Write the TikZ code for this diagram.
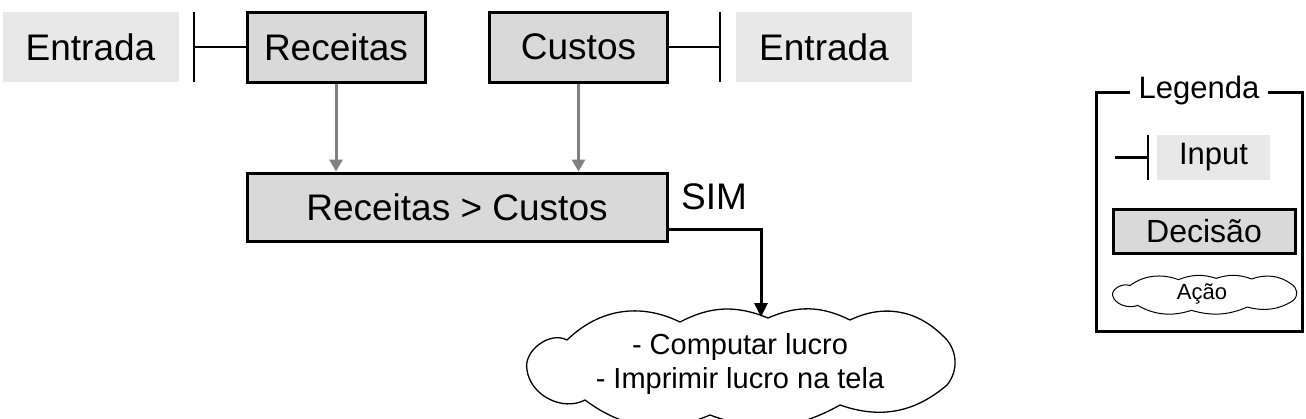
\documentclass[tikz,border=0pt]{standalone}
\usepackage{fontspec}
\setmainfont{Liberation Sans}
\usetikzlibrary{arrows.meta,positioning,calc}
\definecolor{inputgray}{RGB}{232,232,232}
\definecolor{decgray}{RGB}{217,217,217}
\definecolor{arrowgray}{RGB}{128,128,128}

% cloud outline round the current origin
\newcommand{\cloudoutline}[1]{%
  \draw[#1] (-210,3) to[bend left=65] (-170,-27) to[bend left=35] (-57,-45)
    to[bend left=25] (31,-49) to[bend left=25] (113,-47) to[bend left=35] (205,-32)
    to[bend left=45] (210,18) to[bend left=30] (103,38) to[bend left=25] (-27,48)
    to[bend left=30] (-152,33) to[bend left=55] cycle;}

\begin{document}
\begin{tikzpicture}[x=1pt,y=-1pt]
    % Define node styles
    \tikzstyle{inputbox} = [rectangle, fill=inputgray, inner sep=0pt, minimum width=176pt, minimum height=70pt, font=\fontsize{37}{40}\selectfont]
    \tikzstyle{decbox} = [rectangle, draw, line width=3pt, fill=decgray, inner sep=0pt, minimum width=178pt, minimum height=70pt, font=\fontsize{37}{40}\selectfont]
    \tikzstyle{cloudline} = [line width=1.3pt, fill=white, line join=round]
    \tikzstyle{bar} = [line width=2.5pt]
    \tikzstyle{grayarrow} = [arrowgray, line width=3pt, -{Triangle[length=12pt,width=13pt]}]
    \tikzstyle{simarrow} = [line width=3pt, -{Triangle[length=14pt,width=13pt]}]

    \useasboundingbox (0,0) rectangle (1306,418);

    % Inputs and sources
    \node[inputbox] (ent1) at (90.5,47) {Entrada};
    \node[decbox] (rec) at (336,47) {Receitas};
    \node[decbox] (cus) at (578.5,47) {Custos};
    \node[inputbox] (ent2) at (824,47) {Entrada};

    % Input bars
    \coordinate (barL) at (194,47);
    \coordinate (barR) at (720,47);
    \draw[bar] (rec.west) -- (barL);
    \draw[bar] (barL |- ent1.north) -- (barL |- ent1.south);
    \draw[bar] (cus.east) -- (barR);
    \draw[bar] (barR |- ent2.north) -- (barR |- ent2.south);

    % Decision
    \node[decbox, minimum width=420pt, minimum height=68pt] (dec) at (457,207) {Receitas > Custos};
    \draw[grayarrow] (rec.south) -- (rec.south |- dec.north);
    \draw[grayarrow] (cus.south) -- (cus.south |- dec.north);

    % Action
    \coordinate (actc) at (737,367);
    \begin{scope}[shift={(actc)}]
        \cloudoutline{cloudline}
    \end{scope}
    \node[align=center, inner sep=0pt, font=\fontsize{29}{34}\selectfont] (act) at (740,364) {- Computar lucro\\- Imprimir lucro na tela};
    \coordinate (simB) at (761,317);
    \draw[simarrow] ([yshift=13pt]dec.south east) -| (simB);
    \node[font=\fontsize{37}{40}\selectfont] (sim) at (714,197) {SIM};

    % Legend
    \node[draw, line width=3pt, minimum width=206pt, minimum height=239pt, inner sep=0pt] (leg) at (1199,211.5) {};
    \node[fill=white, inner xsep=9pt, inner ysep=4pt, font=\fontsize{31}{33}\selectfont] (legtitle) at (leg.north) {Legenda};
    \node[inputbox, minimum width=113pt, minimum height=45pt, font=\fontsize{31}{34}\selectfont] (leginp) at (1213.5,157.5) {Input};
    \coordinate (legbar) at (1148,157.5);
    \coordinate (legtail) at (1115,157.5);
    \draw[bar] (legtail) -- (legbar);
    \draw[bar] (legbar |- leginp.north) -- (legbar |- leginp.south);
    \node[decbox, minimum width=182pt, minimum height=44pt, font=\fontsize{32}{34}\selectfont] (legdec) at (1204,231) {Decisão};
    \coordinate (legactc) at (1203,294.5);
    \begin{scope}[shift={(legactc)}, xscale=0.43, yscale=0.33]
        \cloudoutline{cloudline, line width=1pt}
    \end{scope}
    \node[inner sep=0pt, font=\fontsize{22}{24}\selectfont] (legact) at (1202,294) {Ação};

\end{tikzpicture}
\end{document}
